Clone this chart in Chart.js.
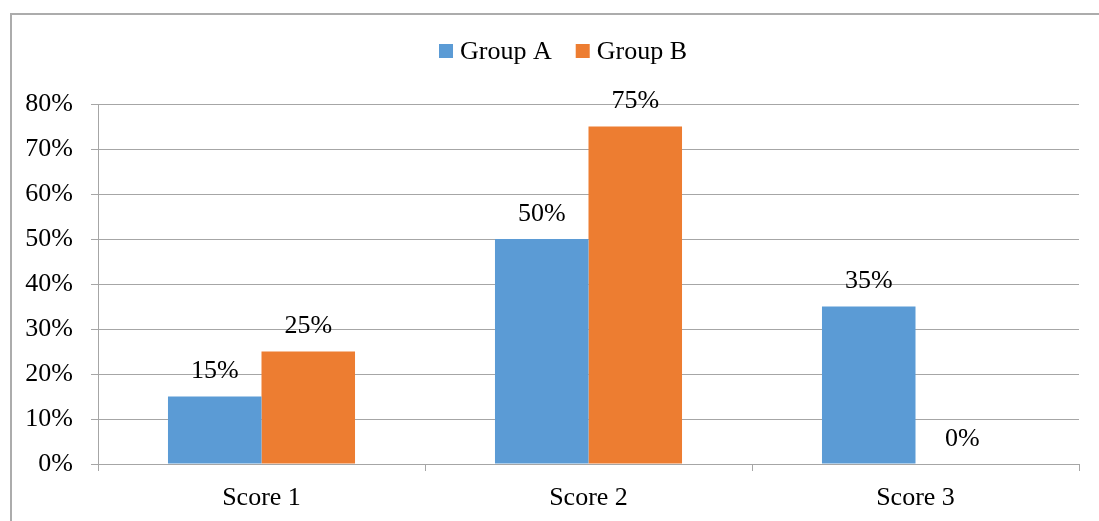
<!DOCTYPE html>
<html lang="en">
<head>
    <meta charset="UTF-8">
    <title>Group A vs Group B</title>
    <script src="https://cdn.jsdelivr.net/npm/chart.js"></script>
    <style>
        body {
            margin: 0;
            padding: 0;
            background: #ffffff;
        }
        /* frame of the chart, only top and left edges are visible */
        .frame {
            position: absolute;
            left: 10px;
            top: 13px;
            width: 1089px;
            height: 508px;
            border-left: 2px solid #acacac;
            border-top: 2px solid #acacac;
            box-sizing: border-box;
        }
        .wrap {
            position: absolute;
            left: 0;
            top: 0;
            width: 1099px;
            height: 521px;
        }
    </style>
</head>
<body>
    <div class="frame"></div>
    <div class="wrap">
        <canvas id="barChart" width="1099" height="521"></canvas>
    </div>

    <script>
        // Data
        const categories = ['Score 1', 'Score 2', 'Score 3'];
        const seriesNames = ['Group A', 'Group B'];
        const groupA = [15, 50, 35];
        const groupB = [25, 75, 0];
        const yTicks = [0, 10, 20, 30, 40, 50, 60, 70, 80];

        const colors = ['#5B9BD5', '#ED7D31'];
        const gridColor = '#a6a6a6';
        const fontFamily = '"Liberation Serif", "Times New Roman", serif';
        const fontSize = 26;

        // Value labels above each bar
        const valueLabels = {
            id: 'valueLabels',
            afterDatasetsDraw(chart) {
                const ctx = chart.ctx;
                ctx.save();
                ctx.font = fontSize + 'px ' + fontFamily;
                ctx.fillStyle = '#000';
                ctx.textAlign = 'center';
                ctx.textBaseline = 'middle';
                chart.data.datasets.forEach((ds, i) => {
                    const meta = chart.getDatasetMeta(i);
                    meta.data.forEach((bar, j) => {
                        ctx.fillText(ds.data[j] + '%', bar.x, bar.y - 25);
                    });
                });
                ctx.restore();
            }
        };

        // Legend drawn like the original (small squares, close to text)
        const topLegend = {
            id: 'topLegend',
            afterDraw(chart) {
                const ctx = chart.ctx;
                ctx.save();
                ctx.font = fontSize + 'px ' + fontFamily;
                ctx.textBaseline = 'middle';
                const box = 14, gap = 7, spacing = 24;
                const widths = chart.data.datasets.map(d => ctx.measureText(d.label).width);
                let total = 0;
                widths.forEach((w, i) => { total += box + gap + w + (i ? spacing : 0); });
                let x = 563 - total / 2;
                const y = 51;
                chart.data.datasets.forEach((d, i) => {
                    ctx.fillStyle = d.backgroundColor;
                    ctx.fillRect(x, y - box / 2, box, box);
                    ctx.fillStyle = '#000';
                    ctx.fillText(d.label, x + box + gap, y + 1);
                    x += box + gap + widths[i] + spacing;
                });
                ctx.restore();
            }
        };

        const ctx = document.getElementById('barChart').getContext('2d');
        const chart = new Chart(ctx, {
            type: 'bar',
            data: {
                labels: categories,
                datasets: [
                    { label: seriesNames[0], data: groupA, backgroundColor: colors[0] },
                    { label: seriesNames[1], data: groupB, backgroundColor: colors[1] }
                ]
            },
            options: {
                responsive: false,
                animation: false,
                devicePixelRatio: 1,
                layout: {
                    padding: { top: 104, right: 20, bottom: 0, left: 0 }
                },
                datasets: {
                    bar: {
                        categoryPercentage: 0.572,
                        barPercentage: 1.0
                    }
                },
                plugins: {
                    legend: { display: false },
                    tooltip: { enabled: false }
                },
                scales: {
                    x: {
                        grid: {
                            offset: true,
                            drawOnChartArea: false,
                            tickLength: 7,
                            color: gridColor
                        },
                        border: { display: true, color: gridColor },
                        ticks: {
                            color: '#000',
                            padding: 12,
                            font: { family: fontFamily, size: fontSize }
                        },
                        afterFit(scale) { scale.height = 57; }
                    },
                    y: {
                        min: 0,
                        max: 80,
                        afterBuildTicks(scale) {
                            scale.ticks = yTicks.map(v => ({ value: v }));
                        },
                        grid: {
                            color: gridColor,
                            tickLength: 7
                        },
                        border: { display: true, color: gridColor },
                        ticks: {
                            color: '#000',
                            padding: 18,
                            font: { family: fontFamily, size: fontSize },
                            callback: v => v + '%'
                        },
                        afterFit(scale) { scale.width = 98; }
                    }
                }
            },
            plugins: [valueLabels, topLegend]
        });
    </script>
</body>
</html>
